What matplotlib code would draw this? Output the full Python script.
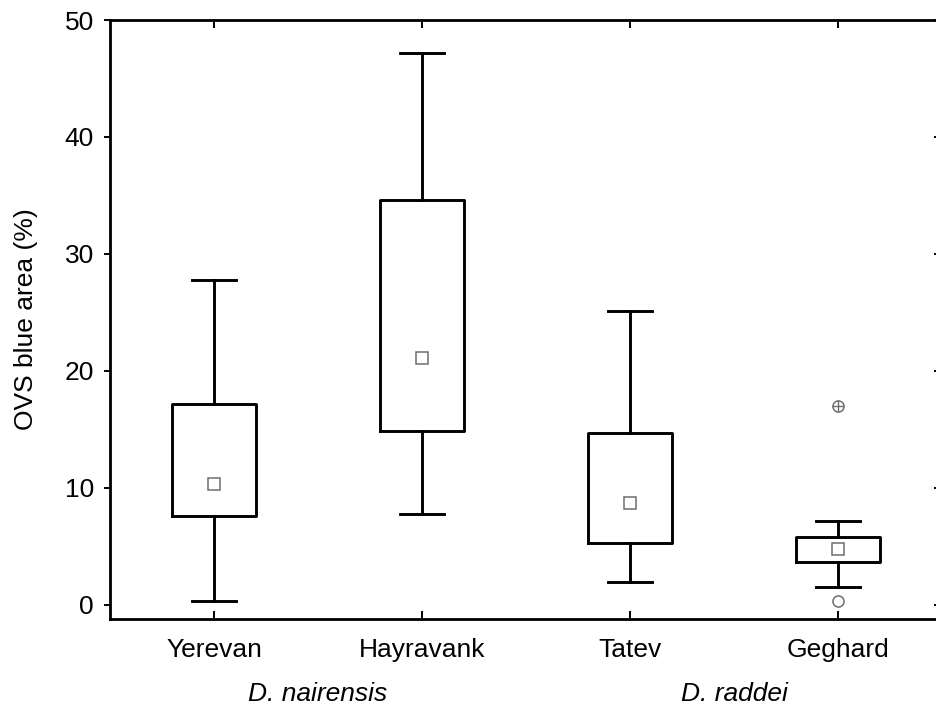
import matplotlib
matplotlib.use("Agg")
import matplotlib.pyplot as plt

plt.rcParams["font.family"] = ["Liberation Sans", "DejaVu Sans"]

# values (OVS blue area, %)
sites = ["Yerevan", "Hayravank", "Tatev", "Geghard"]
median = [10.3, 21.1, 8.7, 4.8]
q1 = [7.6, 14.9, 5.3, 3.7]
q3 = [17.2, 34.6, 14.7, 5.8]
whis_lo = [0.3, 7.8, 2.0, 1.5]
whis_hi = [27.8, 47.2, 25.1, 7.2]
outlier_site = [3]
outlier_val = [0.3]
extreme_site = [3]
extreme_val = [17.0]
species = ["D. nairensis", "D. raddei"]

INK = "black"
GREY = "#6e6e6e"
FS = 19

fig = plt.figure(figsize=(9.36, 7.11), dpi=100)
# right spine sits just past the image edge, as in the original crop
ax = fig.add_axes([110 / 936, 1 - 619 / 711, 832 / 936, 599 / 711])

stats = [
    dict(med=m, q1=a, q3=b, whislo=lo, whishi=hi, fliers=[])
    for m, a, b, lo, hi in zip(median, q1, q3, whis_lo, whis_hi)
]
lw = 2.1
ax.bxp(stats, positions=range(len(sites)), widths=0.40, capwidths=0.21,
       showfliers=False,
       boxprops=dict(color=INK, linewidth=lw),
       whiskerprops=dict(color=INK, linewidth=lw),
       capprops=dict(color=INK, linewidth=lw),
       medianprops=dict(linewidth=0))

ax.plot(range(len(sites)), median, ls="none", marker="s", markersize=8.5,
        markerfacecolor="white", markeredgecolor=GREY, markeredgewidth=1.1,
        zorder=4)
ax.plot(outlier_site, outlier_val, ls="none", marker="o", markersize=8,
        markerfacecolor="white", markeredgecolor=GREY, markeredgewidth=1.1,
        zorder=4)
ax.plot(extreme_site, extreme_val, ls="none", marker="o", markersize=8,
        markerfacecolor="white", markeredgecolor=GREY, markeredgewidth=1.1,
        zorder=4)
ax.plot(extreme_site, extreme_val, ls="none", marker="+", markersize=8,
        markeredgecolor=GREY, markeredgewidth=1.0, zorder=5)

ax.set_xlim(-0.5, 3.5)
ax.set_ylim(-1.2, 50)
ax.set_xticks(range(len(sites)))
ax.set_xticklabels(sites, fontsize=FS)
ax.set_yticks([0, 10, 20, 30, 40, 50])
ax.set_yticklabels(["0", "10", "20", "30", "40", "50"], fontsize=FS)
ax.set_ylabel("OVS blue area (%)", fontsize=FS, labelpad=19)

for side in ax.spines.values():
    side.set_linewidth(2.0)
ax.tick_params(axis="x", direction="in", top=True, length=6, width=1.4,
               pad=14)
ax.tick_params(axis="y", direction="out", length=4, width=1.4, pad=7.5)

# inward ticks on the right side, independent of the outward left ones
ax_r = ax.twinx()
ax_r.set_ylim(ax.get_ylim())
ax_r.set_yticks([0, 10, 20, 30, 40, 50])
ax_r.tick_params(axis="y", direction="in", length=6, width=1.4,
                 labelright=False)
ax_r.spines["right"].set_linewidth(2.0)

fig.text((110 + 832 * 1.0 / 4) / 936, 1 - 694 / 711, species[0],
         fontsize=FS, style="italic", ha="center", va="center")
fig.text((110 + 832 * 3.0 / 4) / 936, 1 - 694 / 711, species[1],
         fontsize=FS, style="italic", ha="center", va="center")

fig.savefig("out.png", dpi=100, facecolor="white")
